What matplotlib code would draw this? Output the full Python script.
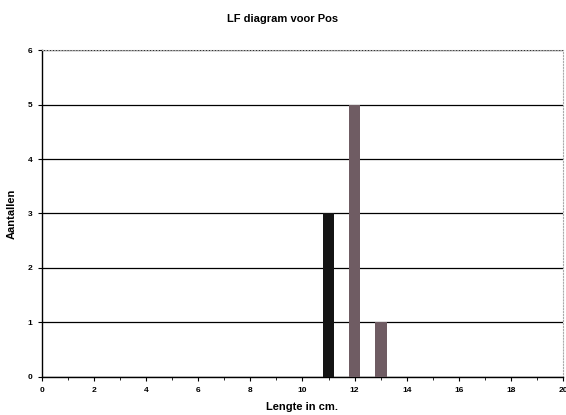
import matplotlib
matplotlib.use("Agg")
import matplotlib.pyplot as plt
from matplotlib.ticker import MultipleLocator

lengths = [11, 12, 13]
series_black = [3, 0, 0]
series_mauve = [0, 5, 1]
x_ticks = [0, 2, 4, 6, 8, 10, 12, 14, 16, 18, 20]
y_ticks = [0, 1, 2, 3, 4, 5, 6]

plt.rcParams['font.family'] = ['Liberation Sans', 'DejaVu Sans']
fig = plt.figure(figsize=(5.66, 4.15), dpi=100)
ax = fig.add_axes([0.0742, 0.0916, 0.9205, 0.7879])

ax.set_axisbelow(True)
ax.yaxis.grid(True, color='black', linewidth=0.9)
ax.bar(lengths, series_black, width=0.45, color='#141414', zorder=3)
ax.bar(lengths, series_mauve, width=0.45, color='#6f5c63', zorder=3)

ax.set_xlim(0, 20)
ax.set_ylim(0, 6)
ax.set_xticks(x_ticks)
ax.set_yticks(y_ticks)
ax.xaxis.set_minor_locator(MultipleLocator(1))
ax.tick_params(axis='both', labelsize=6, length=3, width=0.8, pad=4)
ax.tick_params(axis='x', which='minor', length=2)
for lbl in ax.get_xticklabels() + ax.get_yticklabels():
    lbl.set_fontweight('bold')

ax.spines['top'].set_color('#aaaaaa')
ax.spines['top'].set_linestyle(':')
ax.spines['right'].set_color('#aaaaaa')
ax.spines['right'].set_linestyle(':')
ax.spines['left'].set_linewidth(1.0)
ax.spines['bottom'].set_linewidth(1.0)

ax.set_xlabel('Lengte in cm.', fontsize=8, fontweight='bold', labelpad=6)
ax.set_ylabel('Aantallen', fontsize=8, fontweight='bold', labelpad=8)
fig.text(0.5, 0.955, 'LF diagram voor Pos', ha='center', va='center',
         fontsize=8, fontweight='bold')

fig.savefig('out.png', dpi=100)
